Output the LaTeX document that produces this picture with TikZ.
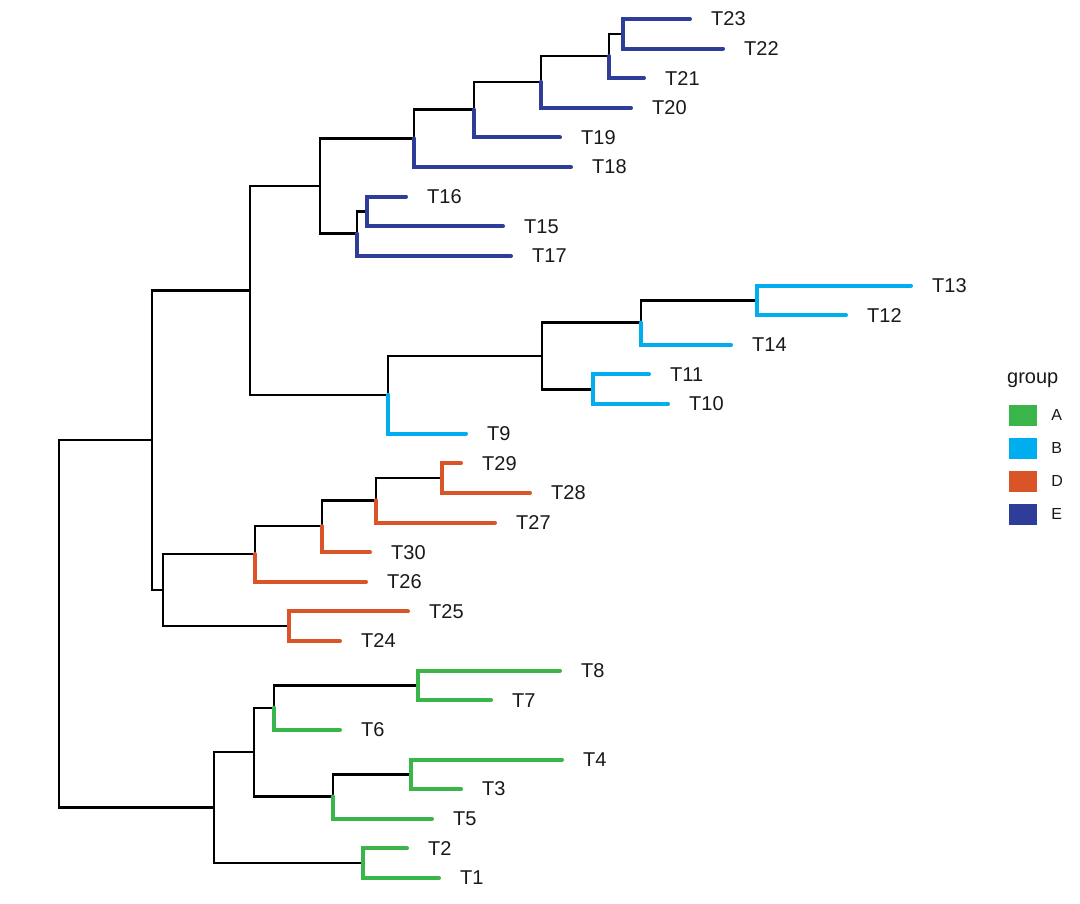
\documentclass[tikz,border=0pt]{standalone}
\usepackage{fontspec}
\setmainfont{Liberation Sans}
\usetikzlibrary{positioning}
\definecolor{grpA}{RGB}{57,181,74}
\definecolor{grpB}{RGB}{0,174,239}
\definecolor{grpD}{RGB}{217,85,39}
\definecolor{grpE}{RGB}{46,61,152}

\begin{document}
\begin{tikzpicture}[x=1pt,y=-1pt,
    every edge/.append style={to path={|- (\tikztotarget)}},
    br/.style={draw=black,line width=2.4pt},
    cladeA/.style={draw=grpA,line width=4pt,line cap=round},
    cladeB/.style={draw=grpB,line width=4pt,line cap=round},
    cladeD/.style={draw=grpD,line width=4pt,line cap=round},
    cladeE/.style={draw=grpE,line width=4pt,line cap=round},
    lab/.style={inner sep=0pt,text=black!90,font=\fontsize{20}{24}\selectfont},
    key/.style={minimum width=28pt,minimum height=21pt,inner sep=0pt}]
  \useasboundingbox (0,0) rectangle (1080,904);

  % internal nodes
  \coordinate (root) at (59,623.9);
  \coordinate (a) at (152,440.2);
  \coordinate (b) at (250,290.4);
  \coordinate (c) at (320,186.1);
  \coordinate (e1) at (414,138.4);
  \coordinate (e2) at (474,109.7);
  \coordinate (e3) at (541,81.9);
  \coordinate (e4) at (609,56.0);
  \coordinate (e5) at (623,33.8);
  \coordinate (e6) at (357,233.7);
  \coordinate (e7) at (367,211.5);
  \coordinate (f) at (388,394.8);
  \coordinate (f1) at (542,355.9);
  \coordinate (f2) at (641,322.6);
  \coordinate (f3) at (757,300.4);
  \coordinate (f4) at (593,389.3);
  \coordinate (d) at (163,590.1);
  \coordinate (d1) at (255,554.0);
  \coordinate (d2) at (322,526.2);
  \coordinate (d3) at (376,500.3);
  \coordinate (d4) at (442,478.1);
  \coordinate (d5) at (289,626.2);
  \coordinate (g) at (214,807.6);
  \coordinate (g1) at (254,752.1);
  \coordinate (g2) at (274,707.7);
  \coordinate (g3) at (418,685.5);
  \coordinate (g4) at (333,796.5);
  \coordinate (g5) at (411,774.3);
  \coordinate (g6) at (363,863.2);

  % tips and their labels
  \foreach \n/\x/\y in {23/690/19.0, 22/723/48.6, 21/644/78.2, 20/631/107.9,
      19/560/137.5, 18/571/167.1, 16/406/196.7, 15/503/226.3, 17/511/256.0,
      13/911/285.6, 12/846/315.2, 14/731/344.8, 11/649/374.4, 10/668/404.1,
      9/466/433.7, 29/461/463.3, 28/530/492.9, 27/495/522.5, 30/370/552.2,
      26/366/581.8, 25/408/611.4, 24/340/641.0, 8/560/670.6, 7/491/700.3,
      6/340/729.9, 4/562/759.5, 3/461/789.1, 5/432/818.7, 2/407/848.4, 1/439/878.0}{
    \coordinate (t\n) at (\x,\y);
    \node[lab,right=21pt of t\n] (l\n) {T\n};
  }

  % backbone
  \path[br]
    (root) edge (a) edge (g)
    (a) edge (b) edge (d)
    (b) edge (c) edge (f)
    (c) edge (e1) edge (e6)
    (e1) edge (e2) (e2) edge (e3) (e3) edge (e4) (e4) edge (e5)
    (e6) edge (e7)
    (f) edge (f1) (f1) edge (f2) edge (f4) (f2) edge (f3)
    (d) edge (d1) edge (d5) (d1) edge (d2) (d2) edge (d3) (d3) edge (d4)
    (g) edge (g1) edge (g6) (g1) edge (g2) edge (g4) (g2) edge (g3) (g4) edge (g5);

  % coloured branches
  \path[cladeE] (e1) edge (t18) (e2) edge (t19) (e3) edge (t20) (e4) edge (t21)
    (e5) edge (t23) edge (t22) (e6) edge (t17) (e7) edge (t16) edge (t15);
  \path[cladeB] (f) edge (t9) (f2) edge (t14) (f3) edge (t13) edge (t12)
    (f4) edge (t11) edge (t10);
  \path[cladeD] (d1) edge (t26) (d2) edge (t30) (d3) edge (t27)
    (d4) edge (t29) edge (t28) (d5) edge (t25) edge (t24);
  \path[cladeA] (g2) edge (t6) (g3) edge (t8) edge (t7) (g4) edge (t5)
    (g5) edge (t4) edge (t3) (g6) edge (t2) edge (t1);

  % legend
  \node[anchor=base west,inner sep=0pt,text=black!90,font=\fontsize{20}{24}\selectfont] (legtitle) at (1007,384) {group};
  \foreach \g/\c [count=\i] in {A/grpA,B/grpB,D/grpD,E/grpE}{
    \node[key,fill=\c] (k\g) at (1023,{415+33*(\i-1)}) {};
    \node[right=14pt of k\g,inner sep=0pt,text=black!90,font=\fontsize{16}{19}\selectfont] (kl\g) {\g};
  }
\end{tikzpicture}
\end{document}
